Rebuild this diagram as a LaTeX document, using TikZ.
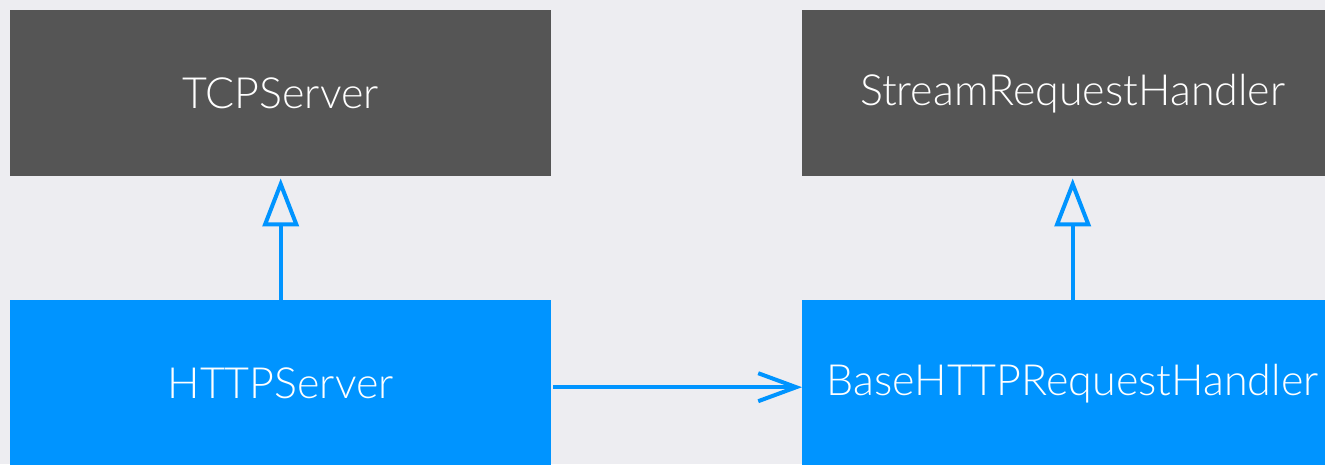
\documentclass[tikz,border=0pt]{standalone}
\usepackage{fontspec}
\setmainfont{Lato Light}
\usetikzlibrary{arrows.meta}
\definecolor{bgcol}{HTML}{EDEDF1}
\definecolor{basecol}{HTML}{555555}
\definecolor{subcol}{HTML}{0094FF}
\begin{document}
\begin{tikzpicture}[x=1pt,y=-1pt,
  cls/.style={rectangle, inner sep=0pt, minimum width=541pt, minimum height=166pt,
    text=white, font=\fontsize{43}{50}\selectfont},
  basecls/.style={cls, fill=basecol},
  subcls/.style={cls, fill=subcol},
  inherit/.style={draw=subcol, line width=4pt,
    -{Triangle[open, width=36pt, length=48pt, line width=4pt]}},
  assoc/.style={draw=subcol, line width=4pt,
    -{Straight Barb[width=28pt, length=38pt, line width=4pt]}}]
  \fill[bgcol] (0,0) rectangle (1325,464);
  \useasboundingbox (0,0) rectangle (1325,464);
  \begin{scope}
    \clip (0,0) rectangle (1325,464);
    \node[basecls, anchor=north west] (tcp) at (10,10) {TCPServer};
    \node[basecls, anchor=north west] (srh) at (802,10) {StreamRequestHandler};
    \node[subcls, anchor=north west] (http) at (10,300) {HTTPServer};
    \node[subcls, anchor=north west] (bhrh) at (802,300) {BaseHTTPRequestHandler};
  \end{scope}
  \draw[inherit] (http.north) -- ([yshift=-2pt]tcp.south);
  \draw[inherit] (bhrh.north) -- ([yshift=-2pt]srh.south);
  \draw[assoc] ([xshift=2pt,yshift=-4pt]http.east) -- ([yshift=-4pt]bhrh.west);
\end{tikzpicture}
\end{document}
